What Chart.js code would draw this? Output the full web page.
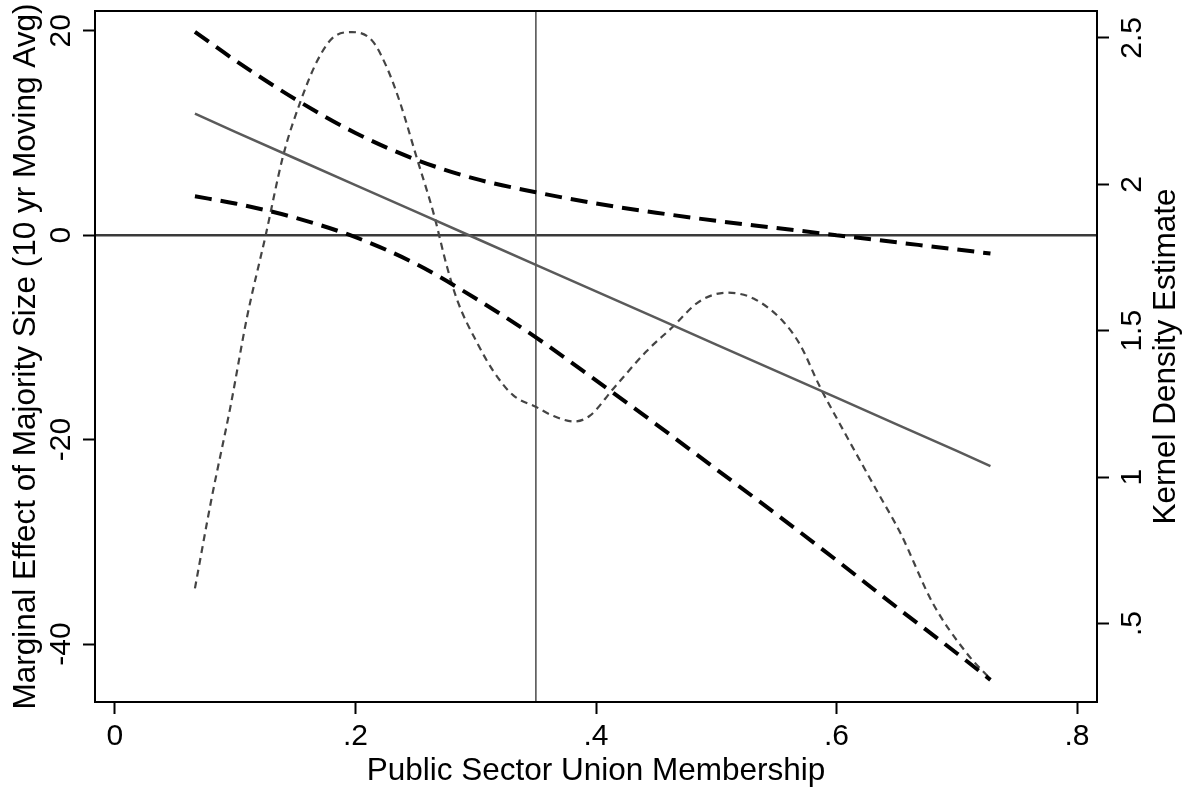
<!DOCTYPE html>
<html><head><meta charset="utf-8">
<script src="https://cdn.jsdelivr.net/npm/chart.js@4.4.0/dist/chart.umd.min.js"></script>
<style>html,body{margin:0;padding:0;background:#fff}canvas{display:block}</style>
</head><body>
<canvas id="c" width="1186" height="791"></canvas>
<script>
// ---- data ----
const xValues = [0.0665, 0.1, 0.15, 0.2, 0.25, 0.3, 0.35, 0.4, 0.45, 0.5, 0.55, 0.6, 0.65, 0.7, 0.728];
const marginalEffect = [11.9, 10.1, 7.5, 4.9, 2.3, -0.3, -2.9, -5.5, -8.1, -10.7, -13.3, -15.9, -18.5, -21.1, -22.6];
const upperCI = [19.9, 17.1, 13.3, 10.0, 7.4, 5.5, 4.2, 3.1, 2.2, 1.4, 0.7, 0.0, -0.7, -1.4, -1.8];
const lowerCI = [3.8, 3.1, 1.7, -0.2, -2.8, -6.2, -10.0, -14.2, -18.5, -22.9, -27.3, -31.8, -36.4, -40.9, -43.5];

const densityX = [0.0665, 0.08, 0.096, 0.11, 0.125, 0.14, 0.154, 0.168, 0.181, 0.197, 0.214, 0.226, 0.237, 0.251, 0.265, 0.276, 0.285, 0.301, 0.315, 0.331, 0.35, 0.364, 0.382, 0.395, 0.414, 0.442, 0.463, 0.486, 0.509, 0.531, 0.556, 0.57, 0.586, 0.603, 0.634, 0.653, 0.68, 0.708, 0.728];
const densityValue = [0.62, 0.92, 1.24, 1.55, 1.82, 2.10, 2.28, 2.42, 2.50, 2.52, 2.49, 2.40, 2.28, 2.09, 1.90, 1.72, 1.60, 1.46, 1.36, 1.28, 1.24, 1.21, 1.19, 1.21, 1.30, 1.43, 1.51, 1.60, 1.63, 1.61, 1.53, 1.45, 1.31, 1.18, 0.95, 0.81, 0.57, 0.40, 0.31];

const xTickValues = [0, 0.2, 0.4, 0.6, 0.8];
const xTickLabels = ["0", ".2", ".4", ".6", ".8"];
const leftTickValues = [-40, -20, 0, 20];
const leftTickLabels = ["-40", "-20", "0", "20"];
const rightTickValues = [0.5, 1, 1.5, 2, 2.5];
const rightTickLabels = [".5", "1", "1.5", "2", "2.5"];

const xTitle = "Public Sector Union Membership";
const leftTitle = "Marginal Effect of Majority Size (10 yr Moving Avg)";
const rightTitle = "Kernel Density Estimate";

const zeroLineValue = 0;
const referenceX = 0.35;

// ---- rendering ----
const FONT = "'Liberation Sans', Arial, Helvetica, sans-serif";
const TICK_FONT = "30px " + FONT;
const TITLE_FONT = "31.5px " + FONT;

const pts = (xs, ys) => xs.map((x, i) => ({x: x, y: ys[i]}));

const gridOpts = {drawOnChartArea: false, drawTicks: true, tickLength: 12, tickColor: '#000', tickWidth: 2, color: '#000'};

const refPlugin = {
  id: 'refLines',
  beforeDatasetsDraw(chart) {
    const ctx = chart.ctx, a = chart.chartArea;
    const sx = chart.scales.x, sy = chart.scales.y;
    ctx.save();
    ctx.setLineDash([]);
    ctx.strokeStyle = '#3a3a3a'; ctx.lineWidth = 2.5;
    const py = sy.getPixelForValue(zeroLineValue);
    ctx.beginPath(); ctx.moveTo(a.left, py); ctx.lineTo(a.right, py); ctx.stroke();
    ctx.strokeStyle = '#555'; ctx.lineWidth = 1.6;
    const px = sx.getPixelForValue(referenceX);
    ctx.beginPath(); ctx.moveTo(px, a.top); ctx.lineTo(px, a.bottom); ctx.stroke();
    ctx.restore();
  }
};

const labelPlugin = {
  id: 'labels',
  afterDraw(chart) {
    const ctx = chart.ctx, a = chart.chartArea;
    const sx = chart.scales.x, sy = chart.scales.y, sy2 = chart.scales.y2;
    ctx.save();
    ctx.setLineDash([]);
    ctx.strokeStyle = '#000'; ctx.lineWidth = 2;
    ctx.strokeRect(a.left, a.top, a.right - a.left, a.bottom - a.top);
    ctx.fillStyle = '#000';
    ctx.textBaseline = 'alphabetic';
    ctx.textAlign = 'center';
    ctx.font = TICK_FONT;
    xTickValues.forEach((v, i) => ctx.fillText(xTickLabels[i], sx.getPixelForValue(v), a.bottom + 43));
    const rot = (txt, x, y) => { ctx.save(); ctx.translate(x, y); ctx.rotate(-Math.PI / 2); ctx.fillText(txt, 0, 0); ctx.restore(); };
    leftTickValues.forEach((v, i) => rot(leftTickLabels[i], a.left - 25, sy.getPixelForValue(v)));
    rightTickValues.forEach((v, i) => rot(rightTickLabels[i], a.right + 44, sy2.getPixelForValue(v)));
    ctx.font = TITLE_FONT;
    const cy = (a.top + a.bottom) / 2;
    ctx.fillText(xTitle, (a.left + a.right) / 2, a.bottom + 78);
    rot(leftTitle, a.left - 60, cy);
    rot(rightTitle, a.right + 78, cy);
    ctx.restore();
  }
};

new Chart(document.getElementById('c'), {
  type: 'line',
  data: {
    datasets: [
      {label: 'Marginal effect', data: pts(xValues, marginalEffect), yAxisID: 'y', borderColor: '#5a5a5a', borderWidth: 2.5, pointRadius: 0, tension: 0, fill: false},
      {label: 'Upper 95% CI', data: pts(xValues, upperCI), yAxisID: 'y', borderColor: '#000', borderWidth: 4, borderDash: [17, 9], pointRadius: 0, cubicInterpolationMode: 'monotone', fill: false},
      {label: 'Lower 95% CI', data: pts(xValues, lowerCI), yAxisID: 'y', borderColor: '#000', borderWidth: 4, borderDash: [17, 9], pointRadius: 0, cubicInterpolationMode: 'monotone', fill: false},
      {label: 'Kernel density', data: pts(densityX, densityValue), yAxisID: 'y2', borderColor: '#444', borderWidth: 2.2, borderDash: [7, 5], pointRadius: 0, cubicInterpolationMode: 'monotone', fill: false}
    ]
  },
  options: {
    responsive: false,
    animation: false,
    events: [],
    layout: {padding: {top: 11, left: 0, right: 0, bottom: 0}},
    plugins: {legend: {display: false}, tooltip: {enabled: false}, title: {display: false}},
    scales: {
      x: {
        type: 'linear', position: 'bottom', min: -0.0166, max: 0.8166,
        afterBuildTicks: s => { s.ticks = xTickValues.map(v => ({value: v})); },
        afterFit: s => { s.height = 89; },
        ticks: {display: false}, grid: gridOpts, border: {display: false}
      },
      y: {
        type: 'linear', position: 'left', min: -45.67, max: 21.93,
        afterBuildTicks: s => { s.ticks = leftTickValues.map(v => ({value: v})); },
        afterFit: s => { s.width = 95; },
        ticks: {display: false}, grid: gridOpts, border: {display: false}
      },
      y2: {
        type: 'linear', position: 'right', min: 0.232, max: 2.592,
        afterBuildTicks: s => { s.ticks = rightTickValues.map(v => ({value: v})); },
        afterFit: s => { s.width = 89; },
        ticks: {display: false}, grid: gridOpts, border: {display: false}
      }
    }
  },
  plugins: [refPlugin, labelPlugin]
});
</script>
</body></html>
